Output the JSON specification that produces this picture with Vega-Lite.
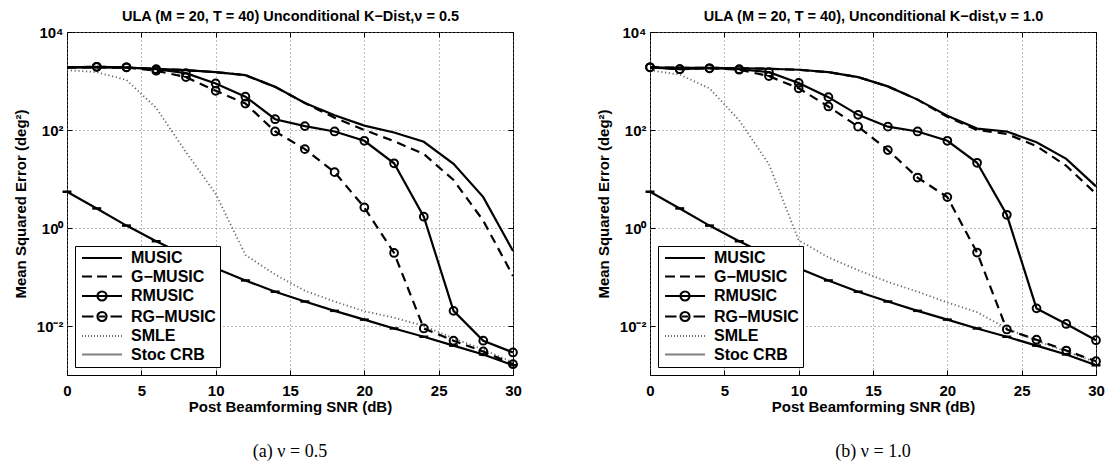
{
  "$schema": "https://vega.github.io/schema/vega-lite/v6.json",
  "background": "white",
  "padding": {"left": 12, "top": 8, "right": 8, "bottom": 2},
  "config": {
    "view": {"stroke": "black", "strokeWidth": 1},
    "font": "Liberation Sans",
    "axis": {"labelFont": "Liberation Sans", "labelFontWeight": "bold", "labelFontSize": 15, "labelColor": "black", "labelFlush": false, "titleFont": "Liberation Sans", "titleFontWeight": "bold", "titleFontSize": 15, "titleColor": "black", "domain": false, "tickColor": "black", "tickSize": -5, "tickWidth": 1, "gridColor": "#777777", "gridDash": [1, 3], "gridOpacity": 1, "gridWidth": 1},
    "legend": {"title": null, "orient": "bottom-left", "offset": 8, "strokeColor": "black", "fillColor": "white", "padding": 4, "labelFont": "Liberation Sans", "labelFontWeight": "bold", "labelFontSize": 16, "labelColor": "black", "symbolSize": 100, "labelOffset": 36, "rowPadding": 2.5, "symbolOpacity": 1, "symbolStrokeWidth": 2.2}
  },
  "datasets": {
    "d": [
      {"p":"a","s":"MUSIC","x":0,"y":1905},{"p":"a","s":"MUSIC","x":2,"y":1905},{"p":"a","s":"MUSIC","x":4,"y":1862},{"p":"a","s":"MUSIC","x":6,"y":1778},{"p":"a","s":"MUSIC","x":8,"y":1660},{"p":"a","s":"MUSIC","x":10,"y":1514},{"p":"a","s":"MUSIC","x":12,"y":1318},{"p":"a","s":"MUSIC","x":14,"y":759},{"p":"a","s":"MUSIC","x":16,"y":355},{"p":"a","s":"MUSIC","x":18,"y":200},{"p":"a","s":"MUSIC","x":20,"y":123},{"p":"a","s":"MUSIC","x":22,"y":89.1},{"p":"a","s":"MUSIC","x":24,"y":57.5},{"p":"a","s":"MUSIC","x":26,"y":20.4},{"p":"a","s":"MUSIC","x":28,"y":4.27},{"p":"a","s":"MUSIC","x":30,"y":0.339},
      {"p":"a","s":"G−MUSIC","x":0,"y":1905},{"p":"a","s":"G−MUSIC","x":2,"y":1905},{"p":"a","s":"G−MUSIC","x":4,"y":1862},{"p":"a","s":"G−MUSIC","x":6,"y":1778},{"p":"a","s":"G−MUSIC","x":8,"y":1660},{"p":"a","s":"G−MUSIC","x":10,"y":1514},{"p":"a","s":"G−MUSIC","x":12,"y":1318},{"p":"a","s":"G−MUSIC","x":14,"y":759},{"p":"a","s":"G−MUSIC","x":16,"y":355},{"p":"a","s":"G−MUSIC","x":18,"y":178},{"p":"a","s":"G−MUSIC","x":20,"y":100},{"p":"a","s":"G−MUSIC","x":22,"y":58.9},{"p":"a","s":"G−MUSIC","x":24,"y":32.4},{"p":"a","s":"G−MUSIC","x":26,"y":9.55},{"p":"a","s":"G−MUSIC","x":28,"y":1.41},{"p":"a","s":"G−MUSIC","x":30,"y":0.105},
      {"p":"a","s":"RMUSIC","x":0,"y":1905},{"p":"a","s":"RMUSIC","x":2,"y":1950},{"p":"a","s":"RMUSIC","x":4,"y":1905},{"p":"a","s":"RMUSIC","x":6,"y":1738},{"p":"a","s":"RMUSIC","x":8,"y":1445},{"p":"a","s":"RMUSIC","x":10,"y":891},{"p":"a","s":"RMUSIC","x":12,"y":479},{"p":"a","s":"RMUSIC","x":14,"y":166},{"p":"a","s":"RMUSIC","x":16,"y":120},{"p":"a","s":"RMUSIC","x":18,"y":93.3},{"p":"a","s":"RMUSIC","x":20,"y":60.3},{"p":"a","s":"RMUSIC","x":22,"y":20.9},{"p":"a","s":"RMUSIC","x":24,"y":1.7},{"p":"a","s":"RMUSIC","x":26,"y":0.0204},{"p":"a","s":"RMUSIC","x":28,"y":0.00501},{"p":"a","s":"RMUSIC","x":30,"y":0.00288},
      {"p":"a","s":"RG−MUSIC","x":0,"y":1905},{"p":"a","s":"RG−MUSIC","x":2,"y":1950},{"p":"a","s":"RG−MUSIC","x":4,"y":1905},{"p":"a","s":"RG−MUSIC","x":6,"y":1622},{"p":"a","s":"RG−MUSIC","x":8,"y":1202},{"p":"a","s":"RG−MUSIC","x":10,"y":631},{"p":"a","s":"RG−MUSIC","x":12,"y":347},{"p":"a","s":"RG−MUSIC","x":14,"y":93.3},{"p":"a","s":"RG−MUSIC","x":16,"y":40.7},{"p":"a","s":"RG−MUSIC","x":18,"y":13.8},{"p":"a","s":"RG−MUSIC","x":20,"y":2.63},{"p":"a","s":"RG−MUSIC","x":22,"y":0.309},{"p":"a","s":"RG−MUSIC","x":24,"y":0.00891},{"p":"a","s":"RG−MUSIC","x":26,"y":0.00501},{"p":"a","s":"RG−MUSIC","x":28,"y":0.00302},{"p":"a","s":"RG−MUSIC","x":30,"y":0.00166},
      {"p":"a","s":"SMLE","x":0,"y":1660},{"p":"a","s":"SMLE","x":2,"y":1514},{"p":"a","s":"SMLE","x":4,"y":1047},{"p":"a","s":"SMLE","x":6,"y":282},{"p":"a","s":"SMLE","x":8,"y":35.5},{"p":"a","s":"SMLE","x":10,"y":5.01},{"p":"a","s":"SMLE","x":12,"y":0.282},{"p":"a","s":"SMLE","x":14,"y":0.112},{"p":"a","s":"SMLE","x":16,"y":0.0525},{"p":"a","s":"SMLE","x":18,"y":0.0316},{"p":"a","s":"SMLE","x":20,"y":0.02},{"p":"a","s":"SMLE","x":22,"y":0.0148},{"p":"a","s":"SMLE","x":24,"y":0.01},{"p":"a","s":"SMLE","x":26,"y":0.00562},{"p":"a","s":"SMLE","x":28,"y":0.00331},{"p":"a","s":"SMLE","x":30,"y":0.00182},
      {"p":"a","s":"Stoc CRB","x":0,"y":5.5},{"p":"a","s":"Stoc CRB","x":2,"y":2.51},{"p":"a","s":"Stoc CRB","x":4,"y":1.12},{"p":"a","s":"Stoc CRB","x":6,"y":0.537},{"p":"a","s":"Stoc CRB","x":8,"y":0.275},{"p":"a","s":"Stoc CRB","x":10,"y":0.151},{"p":"a","s":"Stoc CRB","x":12,"y":0.0851},{"p":"a","s":"Stoc CRB","x":14,"y":0.0501},{"p":"a","s":"Stoc CRB","x":16,"y":0.0316},{"p":"a","s":"Stoc CRB","x":18,"y":0.0204},{"p":"a","s":"Stoc CRB","x":20,"y":0.0135},{"p":"a","s":"Stoc CRB","x":22,"y":0.00891},{"p":"a","s":"Stoc CRB","x":24,"y":0.00603},{"p":"a","s":"Stoc CRB","x":26,"y":0.00398},{"p":"a","s":"Stoc CRB","x":28,"y":0.00263},{"p":"a","s":"Stoc CRB","x":30,"y":0.00158},
      {"p":"b","s":"MUSIC","x":0,"y":1905},{"p":"b","s":"MUSIC","x":2,"y":1862},{"p":"b","s":"MUSIC","x":4,"y":1862},{"p":"b","s":"MUSIC","x":6,"y":1820},{"p":"b","s":"MUSIC","x":8,"y":1778},{"p":"b","s":"MUSIC","x":10,"y":1698},{"p":"b","s":"MUSIC","x":12,"y":1514},{"p":"b","s":"MUSIC","x":14,"y":1202},{"p":"b","s":"MUSIC","x":16,"y":776},{"p":"b","s":"MUSIC","x":18,"y":417},{"p":"b","s":"MUSIC","x":20,"y":195},{"p":"b","s":"MUSIC","x":22,"y":107},{"p":"b","s":"MUSIC","x":24,"y":93.3},{"p":"b","s":"MUSIC","x":26,"y":56.2},{"p":"b","s":"MUSIC","x":28,"y":25.7},{"p":"b","s":"MUSIC","x":30,"y":7.08},
      {"p":"b","s":"G−MUSIC","x":0,"y":1905},{"p":"b","s":"G−MUSIC","x":2,"y":1862},{"p":"b","s":"G−MUSIC","x":4,"y":1862},{"p":"b","s":"G−MUSIC","x":6,"y":1820},{"p":"b","s":"G−MUSIC","x":8,"y":1778},{"p":"b","s":"G−MUSIC","x":10,"y":1698},{"p":"b","s":"G−MUSIC","x":12,"y":1514},{"p":"b","s":"G−MUSIC","x":14,"y":1202},{"p":"b","s":"G−MUSIC","x":16,"y":776},{"p":"b","s":"G−MUSIC","x":18,"y":417},{"p":"b","s":"G−MUSIC","x":20,"y":186},{"p":"b","s":"G−MUSIC","x":22,"y":100},{"p":"b","s":"G−MUSIC","x":24,"y":83.2},{"p":"b","s":"G−MUSIC","x":26,"y":46.8},{"p":"b","s":"G−MUSIC","x":28,"y":18.6},{"p":"b","s":"G−MUSIC","x":30,"y":5.01},
      {"p":"b","s":"RMUSIC","x":0,"y":1905},{"p":"b","s":"RMUSIC","x":2,"y":1738},{"p":"b","s":"RMUSIC","x":4,"y":1820},{"p":"b","s":"RMUSIC","x":6,"y":1738},{"p":"b","s":"RMUSIC","x":8,"y":1514},{"p":"b","s":"RMUSIC","x":10,"y":912},{"p":"b","s":"RMUSIC","x":12,"y":468},{"p":"b","s":"RMUSIC","x":14,"y":204},{"p":"b","s":"RMUSIC","x":16,"y":117},{"p":"b","s":"RMUSIC","x":18,"y":93.3},{"p":"b","s":"RMUSIC","x":20,"y":60.3},{"p":"b","s":"RMUSIC","x":22,"y":21.4},{"p":"b","s":"RMUSIC","x":24,"y":1.86},{"p":"b","s":"RMUSIC","x":26,"y":0.0229},{"p":"b","s":"RMUSIC","x":28,"y":0.011},{"p":"b","s":"RMUSIC","x":30,"y":0.00513},
      {"p":"b","s":"RG−MUSIC","x":0,"y":1905},{"p":"b","s":"RG−MUSIC","x":2,"y":1738},{"p":"b","s":"RG−MUSIC","x":4,"y":1820},{"p":"b","s":"RG−MUSIC","x":6,"y":1698},{"p":"b","s":"RG−MUSIC","x":8,"y":1259},{"p":"b","s":"RG−MUSIC","x":10,"y":708},{"p":"b","s":"RG−MUSIC","x":12,"y":302},{"p":"b","s":"RG−MUSIC","x":14,"y":117},{"p":"b","s":"RG−MUSIC","x":16,"y":38.9},{"p":"b","s":"RG−MUSIC","x":18,"y":10.7},{"p":"b","s":"RG−MUSIC","x":20,"y":4.27},{"p":"b","s":"RG−MUSIC","x":22,"y":0.316},{"p":"b","s":"RG−MUSIC","x":24,"y":0.00851},{"p":"b","s":"RG−MUSIC","x":26,"y":0.00525},{"p":"b","s":"RG−MUSIC","x":28,"y":0.00316},{"p":"b","s":"RG−MUSIC","x":30,"y":0.00191},
      {"p":"b","s":"SMLE","x":0,"y":1660},{"p":"b","s":"SMLE","x":2,"y":1349},{"p":"b","s":"SMLE","x":4,"y":708},{"p":"b","s":"SMLE","x":6,"y":158},{"p":"b","s":"SMLE","x":8,"y":20},{"p":"b","s":"SMLE","x":10,"y":0.562},{"p":"b","s":"SMLE","x":12,"y":0.251},{"p":"b","s":"SMLE","x":14,"y":0.138},{"p":"b","s":"SMLE","x":16,"y":0.0794},{"p":"b","s":"SMLE","x":18,"y":0.0501},{"p":"b","s":"SMLE","x":20,"y":0.0302},{"p":"b","s":"SMLE","x":22,"y":0.0191},{"p":"b","s":"SMLE","x":24,"y":0.00891},{"p":"b","s":"SMLE","x":26,"y":0.00501},{"p":"b","s":"SMLE","x":28,"y":0.00302},{"p":"b","s":"SMLE","x":30,"y":0.00182},
      {"p":"b","s":"Stoc CRB","x":0,"y":5.5},{"p":"b","s":"Stoc CRB","x":2,"y":2.51},{"p":"b","s":"Stoc CRB","x":4,"y":1.12},{"p":"b","s":"Stoc CRB","x":6,"y":0.537},{"p":"b","s":"Stoc CRB","x":8,"y":0.275},{"p":"b","s":"Stoc CRB","x":10,"y":0.151},{"p":"b","s":"Stoc CRB","x":12,"y":0.0851},{"p":"b","s":"Stoc CRB","x":14,"y":0.0501},{"p":"b","s":"Stoc CRB","x":16,"y":0.0316},{"p":"b","s":"Stoc CRB","x":18,"y":0.0204},{"p":"b","s":"Stoc CRB","x":20,"y":0.0135},{"p":"b","s":"Stoc CRB","x":22,"y":0.00891},{"p":"b","s":"Stoc CRB","x":24,"y":0.00603},{"p":"b","s":"Stoc CRB","x":26,"y":0.00398},{"p":"b","s":"Stoc CRB","x":28,"y":0.00263},{"p":"b","s":"Stoc CRB","x":30,"y":0.00158}
    ]
  },
  "bounds": "flush",
  "spacing": 137,
  "resolve": {"scale": {"shape": "independent", "color": "independent"}, "legend": {"shape": "independent", "color": "independent"}},
  "hconcat": [
    {
      "width": 446, "height": 343,
      "data": {"name": "d"},
      "transform": [{"filter": "datum.p == 'a'"}],
      "title": {"text": "(a) ν = 0.5", "orient": "bottom", "font": "Liberation Serif", "fontSize": 18, "fontWeight": "normal", "offset": 29, "color": "black"},
      "resolve": {"axis": {"x": "independent", "y": "independent"}},
      "layer": [
        {
          "transform": [{"filter": "datum.s == 'SMLE'"}],
          "mark": {"type": "line", "clip": true, "color": "#686868", "strokeWidth": 1.8, "strokeDash": [1.2, 2.6]},
          "encoding": {
            "x": {"field": "x", "type": "quantitative", "scale": {"domain": [0, 30], "nice": false}, "axis": {"values": [0, 5, 10, 15, 20, 25, 30], "title": "Post Beamforming SNR (dB)", "grid": true, "labelPadding": 13, "titlePadding": 1}},
            "y": {"field": "y", "type": "quantitative", "scale": {"type": "log", "domain": [0.001, 10000], "nice": false}, "axis": {"values": [0.01, 1, 100, 10000], "labelExpr": "datum.value >= 5000 ? '10⁴' : datum.value >= 50 ? '10²' : datum.value >= 0.5 ? '10⁰' : '10⁻²'", "title": "Mean Squared Error (deg²)", "grid": true, "labelPadding": 9, "titlePadding": 8}}
          }
        },
        {
          "transform": [{"filter": "datum.s == 'MUSIC' || datum.s == 'RMUSIC' || datum.s == 'Stoc CRB'"}],
          "mark": {"type": "line", "clip": true, "color": "black", "strokeWidth": 2.2},
          "encoding": {
            "x": {"field": "x", "type": "quantitative", "axis": null},
            "y": {"field": "y", "type": "quantitative", "axis": null},
            "detail": {"field": "s", "type": "nominal"}
          }
        },
        {
          "transform": [{"filter": "datum.s == 'G−MUSIC' || datum.s == 'RG−MUSIC'"}],
          "mark": {"type": "line", "clip": true, "color": "black", "strokeWidth": 2.2, "strokeDash": [9, 6]},
          "encoding": {
            "x": {"field": "x", "type": "quantitative", "axis": null},
            "y": {"field": "y", "type": "quantitative", "axis": null},
            "detail": {"field": "s", "type": "nominal"}
          }
        },
        {
          "transform": [{"filter": "(datum.s == 'RMUSIC' || datum.s == 'RG−MUSIC') && datum.x > 0"}],
          "mark": {"type": "point", "shape": "circle", "filled": false, "stroke": "black", "strokeWidth": 2, "size": 60, "opacity": 1},
          "encoding": {
            "x": {"field": "x", "type": "quantitative", "axis": {"orient": "top", "title": "ULA (M = 20, T = 40) Unconditional K−Dist,ν = 0.5", "labels": false, "values": [0, 5, 10, 15, 20, 25, 30], "grid": false, "titleFontSize": 14.5, "titlePadding": 8}},
            "y": {"field": "y", "type": "quantitative", "axis": null}
          }
        },
        {
          "transform": [{"filter": "datum.s == 'Stoc CRB'"}],
          "mark": {"type": "point", "shape": "stroke", "filled": false, "stroke": "black", "strokeWidth": 2.5, "size": 80, "opacity": 1},
          "encoding": {
            "x": {"field": "x", "type": "quantitative", "axis": null},
            "y": {"field": "y", "type": "quantitative", "axis": {"orient": "right", "labels": false, "title": null, "grid": false, "values": [0.01, 1, 100, 10000]}}
          }
        },
        {
          "transform": [{"filter": "datum.x == 0"}],
          "mark": {"type": "point", "filled": false, "opacity": 0, "strokeWidth": 2.2},
          "encoding": {
            "x": {"field": "x", "type": "quantitative", "axis": null},
            "y": {"field": "y", "type": "quantitative", "axis": null},
            "shape": {"field": "s", "type": "nominal", "scale": {"domain": ["MUSIC", "G−MUSIC", "RMUSIC", "RG−MUSIC", "SMLE", "Stoc CRB"], "range": ["M-1,0L7,0", "M-1,0L1,0M2,0L4,0M5,0L7,0", "M-1,0L7,0M3.9,0A0.9,0.9,0,1,1,2.1,0A0.9,0.9,0,1,1,3.9,0", "M-1,0L1.3,0M2.4,0L3.6,0M4.7,0L7,0M3.9,0A0.9,0.9,0,1,1,2.1,0A0.9,0.9,0,1,1,3.9,0", "M-1,0h0.2M-0.4,0h0.2M0.2,0h0.2M0.8,0h0.2M1.4,0h0.2M2,0h0.2M2.6,0h0.2M3.2,0h0.2M3.8,0h0.2M4.4,0h0.2M5,0h0.2M5.6,0h0.2M6.2,0h0.2M6.8,0h0.2", "M-1,0L7,0"]}},
            "color": {"field": "s", "type": "nominal", "scale": {"domain": ["MUSIC", "G−MUSIC", "RMUSIC", "RG−MUSIC", "SMLE", "Stoc CRB"], "range": ["black", "black", "black", "black", "#686868", "#808080"]}}
          }
        }
      ]
    },
    {
      "width": 446, "height": 343,
      "data": {"name": "d"},
      "transform": [{"filter": "datum.p == 'b'"}],
      "title": {"text": "(b) ν = 1.0", "orient": "bottom", "font": "Liberation Serif", "fontSize": 18, "fontWeight": "normal", "offset": 29, "color": "black"},
      "resolve": {"axis": {"x": "independent", "y": "independent"}},
      "layer": [
        {
          "transform": [{"filter": "datum.s == 'SMLE'"}],
          "mark": {"type": "line", "clip": true, "color": "#686868", "strokeWidth": 1.8, "strokeDash": [1.2, 2.6]},
          "encoding": {
            "x": {"field": "x", "type": "quantitative", "scale": {"domain": [0, 30], "nice": false}, "axis": {"values": [0, 5, 10, 15, 20, 25, 30], "title": "Post Beamforming SNR (dB)", "grid": true, "labelPadding": 13, "titlePadding": 1}},
            "y": {"field": "y", "type": "quantitative", "scale": {"type": "log", "domain": [0.001, 10000], "nice": false}, "axis": {"values": [0.01, 1, 100, 10000], "labelExpr": "datum.value >= 5000 ? '10⁴' : datum.value >= 50 ? '10²' : datum.value >= 0.5 ? '10⁰' : '10⁻²'", "title": "Mean Squared Error (deg²)", "grid": true, "labelPadding": 9, "titlePadding": 8}}
          }
        },
        {
          "transform": [{"filter": "datum.s == 'MUSIC' || datum.s == 'RMUSIC' || datum.s == 'Stoc CRB'"}],
          "mark": {"type": "line", "clip": true, "color": "black", "strokeWidth": 2.2},
          "encoding": {
            "x": {"field": "x", "type": "quantitative", "axis": null},
            "y": {"field": "y", "type": "quantitative", "axis": null},
            "detail": {"field": "s", "type": "nominal"}
          }
        },
        {
          "transform": [{"filter": "datum.s == 'G−MUSIC' || datum.s == 'RG−MUSIC'"}],
          "mark": {"type": "line", "clip": true, "color": "black", "strokeWidth": 2.2, "strokeDash": [9, 6]},
          "encoding": {
            "x": {"field": "x", "type": "quantitative", "axis": null},
            "y": {"field": "y", "type": "quantitative", "axis": null},
            "detail": {"field": "s", "type": "nominal"}
          }
        },
        {
          "transform": [{"filter": "datum.s == 'RMUSIC' || datum.s == 'RG−MUSIC'"}],
          "mark": {"type": "point", "shape": "circle", "filled": false, "stroke": "black", "strokeWidth": 2, "size": 60, "opacity": 1},
          "encoding": {
            "x": {"field": "x", "type": "quantitative", "axis": {"orient": "top", "title": "ULA (M = 20, T = 40), Unconditional K−dist,ν = 1.0", "labels": false, "values": [0, 5, 10, 15, 20, 25, 30], "grid": false, "titleFontSize": 14.5, "titlePadding": 8}},
            "y": {"field": "y", "type": "quantitative", "axis": null}
          }
        },
        {
          "transform": [{"filter": "datum.s == 'Stoc CRB'"}],
          "mark": {"type": "point", "shape": "stroke", "filled": false, "stroke": "black", "strokeWidth": 2.5, "size": 80, "opacity": 1},
          "encoding": {
            "x": {"field": "x", "type": "quantitative", "axis": null},
            "y": {"field": "y", "type": "quantitative", "axis": {"orient": "right", "labels": false, "title": null, "grid": false, "values": [0.01, 1, 100, 10000]}}
          }
        },
        {
          "transform": [{"filter": "datum.x == 0"}],
          "mark": {"type": "point", "filled": false, "opacity": 0, "strokeWidth": 2.2},
          "encoding": {
            "x": {"field": "x", "type": "quantitative", "axis": null},
            "y": {"field": "y", "type": "quantitative", "axis": null},
            "shape": {"field": "s", "type": "nominal", "scale": {"domain": ["MUSIC", "G−MUSIC", "RMUSIC", "RG−MUSIC", "SMLE", "Stoc CRB"], "range": ["M-1,0L7,0", "M-1,0L1,0M2,0L4,0M5,0L7,0", "M-1,0L7,0M3.9,0A0.9,0.9,0,1,1,2.1,0A0.9,0.9,0,1,1,3.9,0", "M-1,0L1.3,0M2.4,0L3.6,0M4.7,0L7,0M3.9,0A0.9,0.9,0,1,1,2.1,0A0.9,0.9,0,1,1,3.9,0", "M-1,0h0.2M-0.4,0h0.2M0.2,0h0.2M0.8,0h0.2M1.4,0h0.2M2,0h0.2M2.6,0h0.2M3.2,0h0.2M3.8,0h0.2M4.4,0h0.2M5,0h0.2M5.6,0h0.2M6.2,0h0.2M6.8,0h0.2", "M-1,0L7,0"]}},
            "color": {"field": "s", "type": "nominal", "scale": {"domain": ["MUSIC", "G−MUSIC", "RMUSIC", "RG−MUSIC", "SMLE", "Stoc CRB"], "range": ["black", "black", "black", "black", "#686868", "#808080"]}}
          }
        }
      ]
    }
  ]
}
